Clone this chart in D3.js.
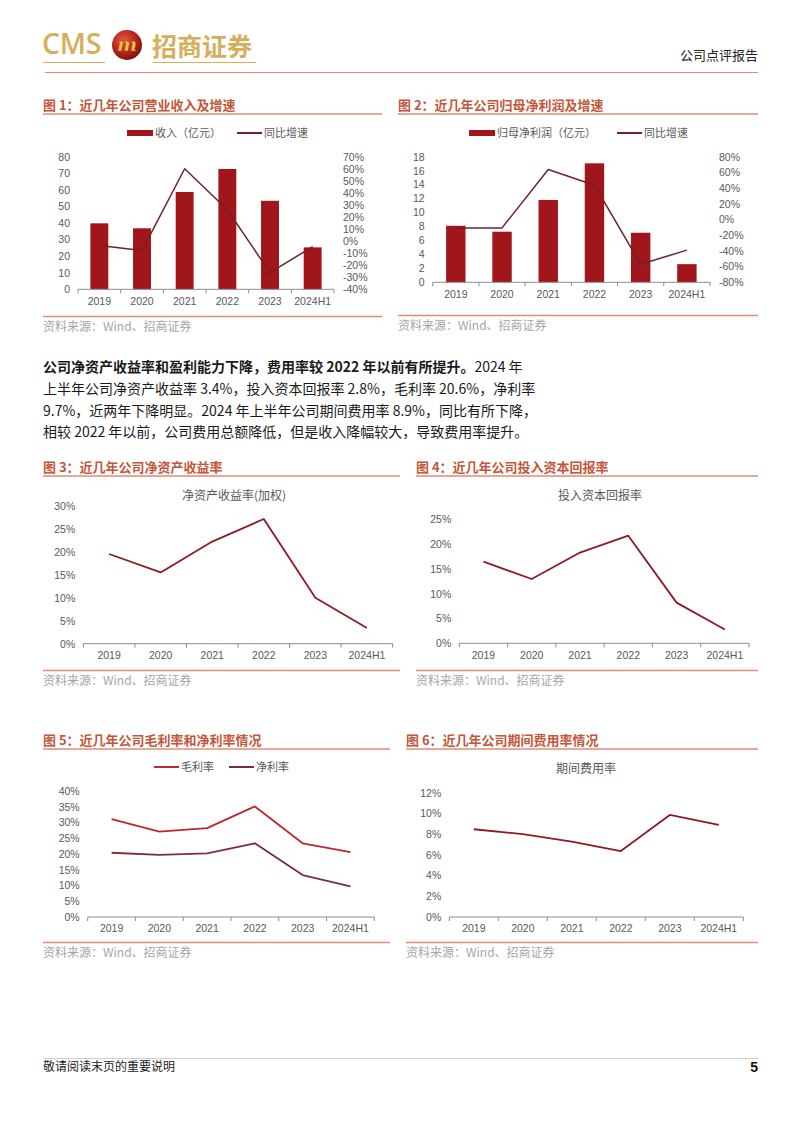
<!DOCTYPE html>
<html><head><meta charset="utf-8">
<script src="https://cdn.jsdelivr.net/npm/d3@7"></script>
<style>
body{margin:0;background:#fff;}
svg{display:block;}
</style></head><body>
<svg id="page" width="802" height="1133"></svg>
<script>
// ---------- data ----------
const years = ["2019","2020","2021","2022","2023","2024H1"];
const revenue = [39.8, 36.8, 58.7, 72.6, 53.4, 25.3];
const revenueGrowth = [-3.7, -7.9, 60.0, 26.0, -26.2, -4.6];
const profit = [8.1, 7.25, 11.8, 17.05, 7.1, 2.6];
const profitGrowth = [-10.7, -10.7, 63.7, 43.7, -57.0, -39.0];
const roe = [19.5, 15.5, 22.2, 27.1, 10.0, 3.4];
const roic = [16.45, 12.96, 18.3, 21.7, 8.2, 2.8];
const grossMargin = [31.1, 27.1, 28.2, 35.1, 23.4, 20.6];
const netMargin = [20.4, 19.7, 20.2, 23.4, 13.3, 9.7];
const expenseRatio = [8.47, 8.0, 7.27, 6.37, 9.85, 8.9];

const revTicks = [0,10,20,30,40,50,60,70,80];
const revGrowthTicks = [-40,-30,-20,-10,0,10,20,30,40,50,60,70];
const profitTicks = [0,2,4,6,8,10,12,14,16,18];
const profitGrowthTicks = [-80,-60,-40,-20,0,20,40,60,80];
const roeTicks = [0,5,10,15,20,25,30];
const roicTicks = [0,5,10,15,20,25];
const marginTicks = [0,5,10,15,20,25,30,35,40];
const expenseTicks = [0,2,4,6,8,10,12];

// ---------- styles ----------
const CJK = "'Noto Sans CJK SC','Noto Sans',sans-serif";
const LAT = "'Liberation Sans',Arial,'Noto Sans CJK SC',sans-serif";
const TITLE_C = "#c4563a", RULE_C = "#de8c76", AX_TXT = "#595959", AX_LINE = "#8c8c8c";
const BAR_C = "#a0161b", GROWTH_C = "#6e2229", LINE_C = "#8e1b24";
const GROSS_C = "#c0262d", NET_C = "#7a2f37", SRC_C = "#a6a6a6", GOLD = "#d6ae5c";

const svg = d3.select("#page");

// ---------- header ----------
const hdr = svg.append("g");
hdr.append("text").attr("x", 42).attr("y", 54).text("CMS")
  .attr("font-family", "'Open Sans',sans-serif").attr("font-weight", 600)
  .attr("font-size", 28.5).attr("fill", GOLD).attr("letter-spacing", -0.3);
const defs = svg.append("defs");
const rg = defs.append("radialGradient").attr("id", "ball").attr("cx", "40%").attr("cy", "35%").attr("r", "65%");
rg.append("stop").attr("offset", "0%").attr("stop-color", "#e85a3a");
rg.append("stop").attr("offset", "60%").attr("stop-color", "#b8261a");
rg.append("stop").attr("offset", "100%").attr("stop-color", "#7e140e");
hdr.append("circle").attr("cx", 127).attr("cy", 45).attr("r", 15).attr("fill", "url(#ball)");
hdr.append("text").attr("x", 127).attr("y", 51).attr("text-anchor", "middle").text("m")
  .attr("font-family", "'DejaVu Serif',serif").attr("font-style", "italic").attr("font-weight", "bold")
  .attr("font-size", 19).attr("fill", "#f2c64a").attr("stroke", "#8a3a10").attr("stroke-width", 0.4);
hdr.append("text").attr("x", 152).attr("y", 56).text("招商证券")
  .attr("font-family", CJK).attr("font-weight", 700).attr("font-size", 25).attr("fill", GOLD);
hdr.append("line").attr("x1", 43).attr("x2", 105).attr("y1", 62.5).attr("y2", 62.5).attr("stroke", GOLD).attr("stroke-width", 1.2);
hdr.append("line").attr("x1", 153).attr("x2", 256).attr("y1", 62.5).attr("y2", 62.5).attr("stroke", GOLD).attr("stroke-width", 1.2);
hdr.append("text").attr("x", 758).attr("y", 60).attr("text-anchor", "end").text("公司点评报告")
  .attr("font-family", CJK).attr("font-size", 13).attr("fill", "#222");
hdr.append("line").attr("x1", 45).attr("x2", 758).attr("y1", 72.5).attr("y2", 72.5).attr("stroke", RULE_C).attr("stroke-width", 1);

// ---------- footer ----------
svg.append("line").attr("x1", 43).attr("x2", 758).attr("y1", 1058.5).attr("y2", 1058.5).attr("stroke", "#cfcfcf").attr("stroke-width", 1);
svg.append("text").attr("x", 43).attr("y", 1071).text("敬请阅读末页的重要说明")
  .attr("font-family", CJK).attr("font-size", 12).attr("fill", "#222");
svg.append("text").attr("x", 758).attr("y", 1072).attr("text-anchor", "end").text("5")
  .attr("font-family", LAT).attr("font-weight", "bold").attr("font-size", 14).attr("fill", "#111");

// ---------- paragraph ----------
const para = svg.append("g").attr("font-family", CJK).attr("font-size", 14).attr("fill", "#1a1a1a");
const l1 = para.append("text").attr("x", 43).attr("y", 372);
l1.append("tspan").attr("font-weight", 700).text("公司净资产收益率和盈利能力下降，费用率较 2022 年以前有所提升。");
l1.append("tspan").text("2024 年");
para.append("text").attr("x", 43).attr("y", 394).text("上半年公司净资产收益率 3.4%，投入资本回报率 2.8%，毛利率 20.6%，净利率");
para.append("text").attr("x", 43).attr("y", 416).text("9.7%，近两年下降明显。2024 年上半年公司期间费用率 8.9%，同比有所下降，");
para.append("text").attr("x", 43).attr("y", 437).text("相较 2022 年以前，公司费用总额降低，但是收入降幅较大，导致费用率提升。");

// ---------- helpers ----------
function frame(o) {
  const g = svg.append("g");
  g.append("text").attr("x", o.x1).attr("y", o.titleY + 4.5).text(o.title)
    .attr("font-family", CJK).attr("font-weight", 700).attr("font-size", 13).attr("fill", TITLE_C);
  g.append("line").attr("x1", o.x1).attr("x2", o.x2).attr("y1", o.titleY + 9).attr("y2", o.titleY + 9)
    .attr("stroke", RULE_C).attr("stroke-width", 1.5);
  g.append("line").attr("x1", o.x1).attr("x2", o.x2).attr("y1", o.srcY - 9.5).attr("y2", o.srcY - 9.5)
    .attr("stroke", RULE_C).attr("stroke-width", 1.5);
  g.append("text").attr("x", o.x1).attr("y", o.srcY + 4.5).text("资料来源：Wind、招商证券")
    .attr("font-family", CJK).attr("font-size", 12).attr("fill", SRC_C);
  return g;
}
function xAxis(g, x, y0) {
  const ax = g.append("g").attr("transform", `translate(0,${y0})`)
    .call(d3.axisBottom(x).tickSize(0).tickPadding(8));
  ax.select(".domain").remove();
  ax.selectAll("text").attr("font-family", LAT).attr("font-size", 10.5).attr("fill", AX_TXT);
  g.append("line").attr("x1", x.range()[0]).attr("x2", x.range()[1]).attr("y1", y0).attr("y2", y0)
    .attr("stroke", AX_LINE).attr("stroke-width", 1);
  const bounds = years.map(d => x(d)).concat([x.range()[1]]);
  g.selectAll(null).data(bounds).enter().append("line")
    .attr("x1", d => d).attr("x2", d => d).attr("y1", y0).attr("y2", y0 + 4)
    .attr("stroke", AX_LINE).attr("stroke-width", 1);
}
function yAxis(g, y, ticks, fmt, xPos, side) {
  const gen = side === "right" ? d3.axisRight(y) : d3.axisLeft(y);
  const ax = g.append("g").attr("transform", `translate(${xPos},0)`)
    .call(gen.tickValues(ticks).tickSize(0).tickPadding(side === "right" ? 9 : 8).tickFormat(fmt));
  ax.select(".domain").remove();
  ax.selectAll("text").attr("font-family", LAT).attr("font-size", 10.5).attr("fill", AX_TXT);
}
function lineLegend(g, x, y, color, label) {
  g.append("line").attr("x1", x).attr("x2", x + 25).attr("y1", y).attr("y2", y).attr("stroke", color).attr("stroke-width", 2);
  g.append("text").attr("x", x + 27).attr("y", y + 4).text(label)
    .attr("font-family", CJK).attr("font-size", 11).attr("fill", AX_TXT);
}
function barLegend(g, x, y, label) {
  g.append("rect").attr("x", x).attr("y", y - 3).attr("width", 26).attr("height", 6).attr("fill", BAR_C);
  g.append("text").attr("x", x + 28).attr("y", y + 4).text(label)
    .attr("font-family", CJK).attr("font-size", 11).attr("fill", AX_TXT);
}
function centeredTitle(g, cx, cy, label) {
  g.append("text").attr("x", cx).attr("y", cy + 4.5).attr("text-anchor", "middle").text(label)
    .attr("font-family", CJK).attr("font-size", 12).attr("fill", AX_TXT);
}
const pct = d => d + "%";
function drawLine(g, x, y, values, color, w) {
  const line = d3.line().x((d, i) => x(years[i]) + x.bandwidth() / 2).y(d => y(d));
  g.append("path").datum(values).attr("d", line).attr("fill", "none")
    .attr("stroke", color).attr("stroke-width", w).attr("stroke-linejoin", "round");
}
function bars(g, x, y, values) {
  const bw = x.bandwidth() * 0.42;
  g.selectAll(null).data(values).enter().append("rect")
    .attr("x", (d, i) => x(years[i]) + (x.bandwidth() - bw) / 2)
    .attr("y", d => y(d)).attr("width", bw).attr("height", d => y(0) - y(d)).attr("fill", BAR_C);
}

// ---------- chart 1 ----------
{
  const g = frame({x1: 43, x2: 382, titleY: 105, srcY: 326, title: "图 1：近几年公司营业收入及增速"});
  const x = d3.scaleBand().domain(years).range([78, 334]);
  const y = d3.scaleLinear().domain([0, 80]).range([289.3, 156.7]);
  const y2 = d3.scaleLinear().domain([-40, 70]).range([289.3, 156.7]);
  barLegend(g, 127, 133, "收入（亿元）");
  lineLegend(g, 237, 133, GROWTH_C, "同比增速");
  yAxis(g, y, revTicks, d => d, 78, "left");
  yAxis(g, y2, revGrowthTicks, pct, 334, "right");
  bars(g, x, y, revenue);
  xAxis(g, x, 289.3);
  drawLine(g, x, y2, revenueGrowth, GROWTH_C, 1.5);
}
// ---------- chart 2 ----------
{
  const g = frame({x1: 398, x2: 758, titleY: 105, srcY: 325, title: "图 2：近几年公司归母净利润及增速"});
  const x = d3.scaleBand().domain(years).range([432.7, 710]);
  const y = d3.scaleLinear().domain([0, 18]).range([282.3, 156.7]);
  const y2 = d3.scaleLinear().domain([-80, 80]).range([282.3, 156.7]);
  barLegend(g, 469, 133, "归母净利润（亿元）");
  lineLegend(g, 617, 133, GROWTH_C, "同比增速");
  yAxis(g, y, profitTicks, d => d, 432.7, "left");
  yAxis(g, y2, profitGrowthTicks, pct, 710, "right");
  bars(g, x, y, profit);
  xAxis(g, x, 282.3);
  drawLine(g, x, y2, profitGrowth, GROWTH_C, 1.5);
}
// ---------- chart 3 ----------
{
  const g = frame({x1: 43, x2: 400, titleY: 467, srcY: 680, title: "图 3：近几年公司净资产收益率"});
  const x = d3.scaleBand().domain(years).range([83.3, 392.7]);
  const y = d3.scaleLinear().domain([0, 30]).range([643.7, 505.7]);
  centeredTitle(g, 234, 495, "净资产收益率(加权)");
  yAxis(g, y, roeTicks, pct, 83.3, "left");
  xAxis(g, x, 643.7);
  drawLine(g, x, y, roe, LINE_C, 1.8);
}
// ---------- chart 4 ----------
{
  const g = frame({x1: 416, x2: 758, titleY: 467, srcY: 680, title: "图 4：近几年公司投入资本回报率"});
  const x = d3.scaleBand().domain(years).range([459.3, 749]);
  const y = d3.scaleLinear().domain([0, 25]).range([643.3, 519.3]);
  centeredTitle(g, 600, 495, "投入资本回报率");
  yAxis(g, y, roicTicks, pct, 459.3, "left");
  xAxis(g, x, 643.3);
  drawLine(g, x, y, roic, LINE_C, 1.8);
}
// ---------- chart 5 ----------
{
  const g = frame({x1: 43, x2: 390, titleY: 740, srcY: 952, title: "图 5：近几年公司毛利率和净利率情况"});
  const x = d3.scaleBand().domain(years).range([87.7, 374.3]);
  const y = d3.scaleLinear().domain([0, 40]).range([917, 791]);
  lineLegend(g, 154, 767, GROSS_C, "毛利率");
  lineLegend(g, 229, 767, NET_C, "净利率");
  yAxis(g, y, marginTicks, pct, 87.7, "left");
  xAxis(g, x, 917);
  drawLine(g, x, y, grossMargin, GROSS_C, 1.8);
  drawLine(g, x, y, netMargin, NET_C, 1.8);
}
// ---------- chart 6 ----------
{
  const g = frame({x1: 406, x2: 758, titleY: 740, srcY: 952, title: "图 6：近几年公司期间费用率情况"});
  const x = d3.scaleBand().domain(years).range([449.3, 743.3]);
  const y = d3.scaleLinear().domain([0, 12]).range([917, 792.7]);
  centeredTitle(g, 586, 768, "期间费用率");
  yAxis(g, y, expenseTicks, pct, 449.3, "left");
  xAxis(g, x, 917);
  drawLine(g, x, y, expenseRatio, LINE_C, 1.8);
}
</script>
</body></html>
